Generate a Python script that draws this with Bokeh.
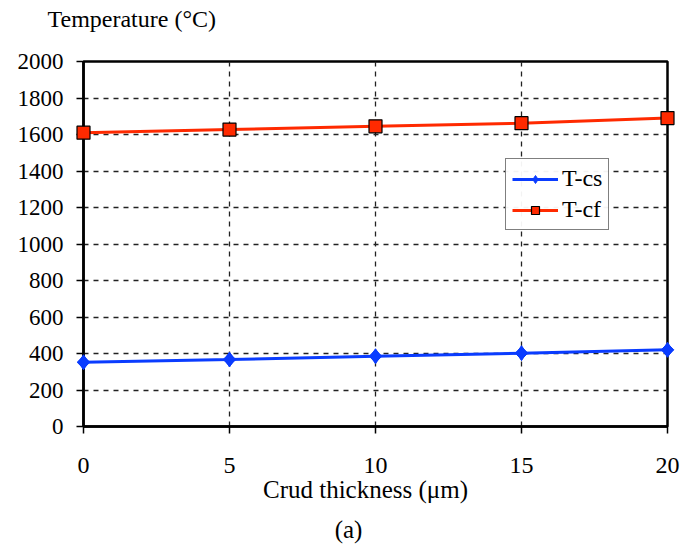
import math
from bokeh.plotting import figure
from bokeh.models import Range1d, Legend, LegendItem, FixedTicker
from bokeh.core.properties import value
from bokeh.embed import file_html
from bokeh.resources import INLINE

thickness = [0, 5, 10, 15, 20]
t_cs = [352, 367, 385, 402, 420]
t_cf = [1610, 1627, 1645, 1662, 1690]
x_ticks = [0, 5, 10, 15, 20]
x_tick_labels = ["0", "5", "10", "15", "20"]
y_ticks = [0, 200, 400, 600, 800, 1000, 1200, 1400, 1600, 1800, 2000]
y_tick_labels = ["0", "200", "400", "600", "800", "1000", "1200", "1400", "1600", "1800", "2000"]
x_title = "Crud thickness (\u03bcm)"
y_title = "Temperature (\u00b0C)"
caption = "(a)"

FONT = "Liberation Serif"
BLUE = "#0a3cff"
RED = "#ff2a00"

p = figure(width=681, height=550, output_backend="svg", toolbar_location=None,
           x_range=Range1d(0, 20), y_range=Range1d(0, 2000),
           min_border_left=83, min_border_right=14, min_border_top=61, min_border_bottom=124)

p.background_fill_color = "white"
p.border_fill_color = "white"
p.outline_line_color = "black"
p.outline_line_width = 2.5

for ax in (p.xaxis[0], p.yaxis[0]):
    ax.axis_line_color = "black"
    ax.axis_line_width = 2.5
    ax.major_tick_line_color = "black"
    ax.major_tick_line_width = 1.5
    ax.major_tick_in = 0
    ax.major_tick_out = 7
    ax.minor_tick_line_color = None
    ax.major_label_text_font_size = "0px"
    ax.major_label_text_color = None
    ax.major_label_standoff = 0

p.xaxis[0].ticker = FixedTicker(ticks=x_ticks)
p.yaxis[0].ticker = FixedTicker(ticks=y_ticks)

for g in (p.xgrid[0], p.ygrid[0]):
    g.grid_line_color = "#222222"
    g.grid_line_dash = "5 5"
    g.grid_line_width = 1.3

# tick labels and titles as text glyphs (serif font)
p.text(x=x_ticks, y=[0] * len(x_ticks), text=x_tick_labels, text_font=value(FONT),
       text_font_size="24px", text_color="black", text_align="center",
       text_baseline="middle", y_offset=39, level="overlay")
p.text(x=[0] * len(y_ticks), y=y_ticks, text=y_tick_labels, text_font=value(FONT),
       text_font_size="23px", text_color="black", text_align="right",
       text_baseline="middle", x_offset=-20, level="overlay")
p.text(x=[0], y=[2000], text=[y_title], text_font=value(FONT),
       text_font_size="24px", text_color="black", text_align="left",
       text_baseline="middle", x_offset=-36, y_offset=-43, level="overlay")
p.text(x=[10], y=[0], text=[x_title], text_font=value(FONT),
       text_font_size="25px", text_color="black", text_align="center",
       text_baseline="middle", x_offset=-10, y_offset=63, level="overlay")
p.text(x=[10], y=[0], text=[caption], text_font=value(FONT),
       text_font_size="25px", text_color="black", text_align="center",
       text_baseline="middle", x_offset=-27, y_offset=103, level="overlay")

l1 = p.line(thickness, t_cs, line_color=BLUE, line_width=3, level="overlay")
m1 = p.scatter(thickness, t_cs, marker="diamond", size=15, fill_color=BLUE,
               line_color=BLUE, level="overlay")
m1b = p.scatter(thickness, t_cs, marker="square", angle=math.pi / 4, size=9,
                fill_color=BLUE, line_color=BLUE, level="overlay")
l2 = p.line(thickness, t_cf, line_color=RED, line_width=3, level="overlay")
m2 = p.scatter(thickness, t_cf, marker="square", size=13, fill_color=RED,
               line_color="black", line_width=1.2, level="overlay")

legend = Legend(items=[LegendItem(label="T-cs", renderers=[l1, m1]),
                       LegendItem(label="T-cf", renderers=[l2, m2])],
                location=(422, 196))
legend.label_text_font = FONT
legend.label_text_font_size = "24px"
legend.label_text_color = "black"
legend.border_line_color = "black"
legend.border_line_width = 1.5
legend.glyph_width = 46
legend.glyph_height = 20
legend.padding = 6
legend.spacing = 4
legend.margin = 0
legend.label_standoff = 4
p.add_layout(legend, "center")

open("out.html", "w").write(file_html(p, INLINE))
